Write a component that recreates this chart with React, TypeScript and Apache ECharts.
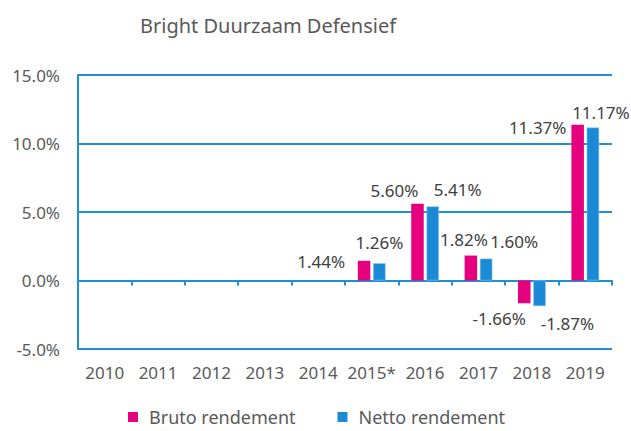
import React, { useEffect, useRef } from "react";
import * as echarts from "echarts";

const titleText = "Bright Duurzaam Defensief";
const categories = ["2010", "2011", "2012", "2013", "2014", "2015*", "2016", "2017", "2018", "2019"];
const brutoName = "Bruto rendement";
const nettoName = "Netto rendement";
const brutoValues: (number | null)[] = [null, null, null, null, null, 1.44, 5.6, 1.82, -1.66, 11.37];
const nettoValues: (number | null)[] = [null, null, null, null, null, 1.26, 5.41, 1.6, -1.87, 11.17];
const yMin = -5;
const yMax = 15;
const yInterval = 5;

// label offsets (style only), matching the manually placed labels of the original
const brutoLabelOffsets: number[][] = [[0, 0], [0, 0], [0, 0], [0, 0], [0, 0], [-43, 14], [-23, 0], [-7, -3], [-25, 2], [-40, 16]];
const nettoLabelOffsets: number[][] = [[0, 0], [0, 0], [0, 0], [0, 0], [0, 0], [0, -7], [25, -3], [28, -4], [28, 4], [8, -1]];

const PINK = "#E6007E";
const BLUE = "#1A8AD6";
const LINE = "#1E8FD8";
const GREY = "#595959";
const DARK = "#404040";
const FONT = "Noto Sans";

function toItems(values: (number | null)[], offsets: number[][]) {
  return values.map((v, i) =>
    v == null
      ? "-"
      : {
          value: v,
          label: { offset: offsets[i] },
        }
  );
}

export default function App() {
  const ref = useRef<HTMLDivElement>(null);
  useEffect(() => {
    if (!ref.current) return;
    const chart = echarts.init(ref.current, undefined, { renderer: "svg" });
    const labelCommon = {
      show: true,
      position: "outside" as any,
      distance: 5,
      color: DARK,
      fontSize: 17,
      fontFamily: FONT,
      formatter: (p: any) => Number(p.value).toFixed(2) + "%",
    };
    chart.setOption({
      animation: false,
      textStyle: { fontFamily: FONT },
      title: {
        text: titleText,
        left: 135,
        top: 10,
        textStyle: { color: GREY, fontSize: 20, fontWeight: "normal", fontFamily: FONT },
      },
      grid: { left: 78, right: 19, top: 75, bottom: 82, containLabel: false },
      legend: {
        left: 128,
        top: 408,
        padding: 0,
        icon: "rect",
        itemWidth: 10,
        itemHeight: 10,
        itemGap: 42,
        itemStyle: { borderWidth: 0 },
        data: [brutoName, nettoName],
        textStyle: { color: GREY, fontSize: 18, lineHeight: 18, fontFamily: FONT, padding: [0, 0, 0, 6] },
      },
      xAxis: [
        {
          type: "category",
          data: categories,
          position: "bottom",
          axisLine: { show: false, onZero: false },
          axisTick: { show: false },
          axisLabel: { color: GREY, fontSize: 17, fontFamily: FONT, margin: 15, interval: 0 },
          splitLine: { show: false },
        },
        {
          type: "category",
          data: categories,
          position: "bottom",
          axisLine: { show: true, onZero: true, onZeroAxisIndex: 0, lineStyle: { color: LINE, width: 2 } },
          axisTick: { show: true, length: 5, interval: 0, lineStyle: { color: LINE, width: 2 } },
          axisLabel: { show: false },
          splitLine: { show: false },
        },
      ],
      yAxis: {
        type: "value",
        min: yMin,
        max: yMax,
        interval: yInterval,
        axisLine: { show: true, lineStyle: { color: LINE, width: 2 } },
        axisTick: { show: false },
        axisLabel: {
          color: GREY,
          fontSize: 17,
          fontFamily: FONT,
          margin: 18,
          formatter: (v: number) => v.toFixed(1) + "%",
        },
        splitLine: { show: true, lineStyle: { color: LINE, width: 2 } },
      },
      series: [
        {
          name: brutoName,
          type: "bar",
          xAxisIndex: 0,
          barWidth: 12.5,
          barGap: "22%",
          itemStyle: { color: PINK },
          label: labelCommon,
          data: toItems(brutoValues, brutoLabelOffsets),
        },
        {
          name: nettoName,
          type: "bar",
          xAxisIndex: 0,
          barWidth: 12.5,
          barGap: "22%",
          itemStyle: { color: BLUE, borderColor: "#8FC8EE", borderWidth: 0.6 },
          label: labelCommon,
          data: toItems(nettoValues, nettoLabelOffsets),
        },
      ],
    });
    return () => chart.dispose();
  }, []);
  return (
    <div
      ref={ref}
      style={{ position: "fixed", left: 0, top: 0, width: 631, height: 431, background: "#fff" }}
    />
  );
}
